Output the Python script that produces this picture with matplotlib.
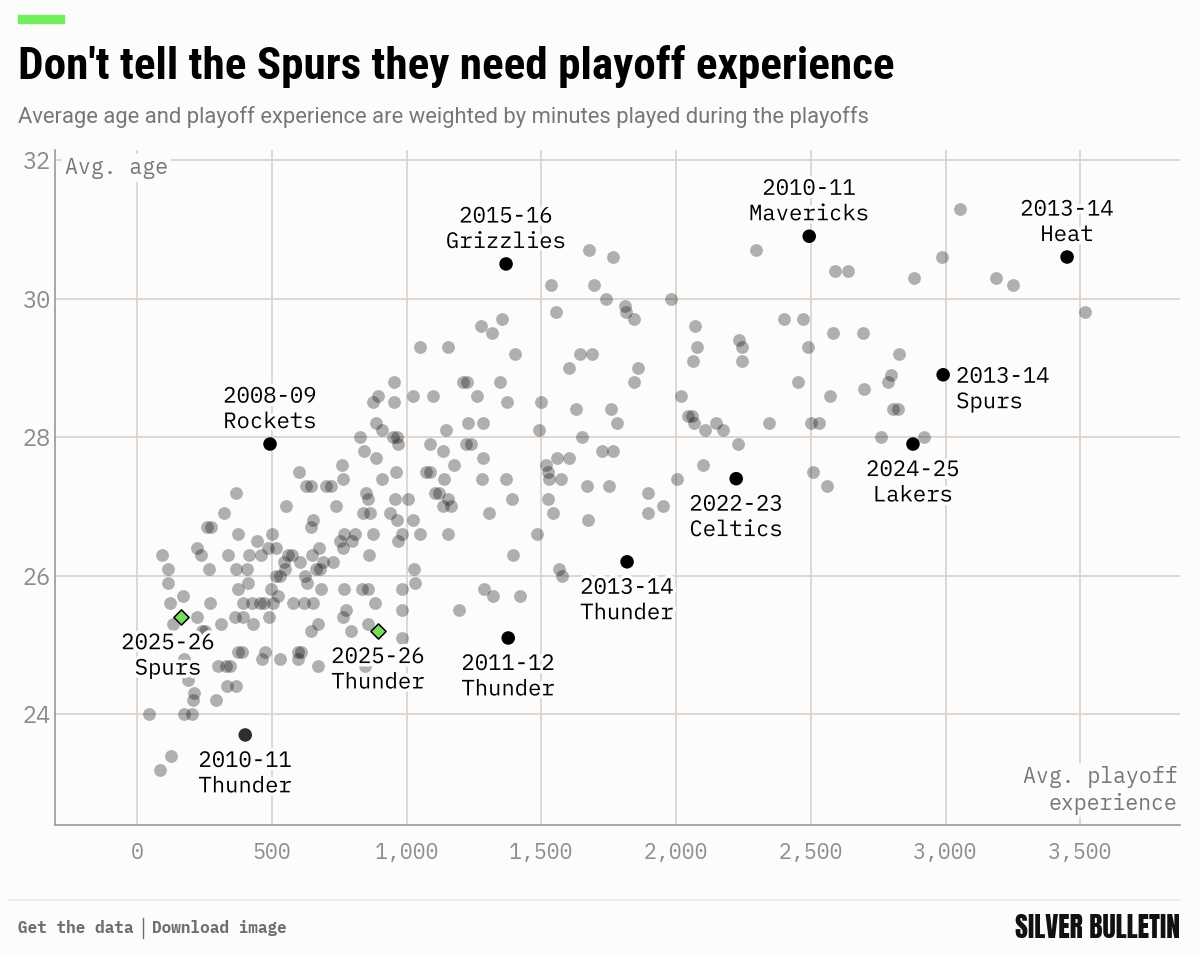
import matplotlib
matplotlib.use("Agg")
import matplotlib.pyplot as plt
import matplotlib.patheffects as pe
from matplotlib.patches import Rectangle
from matplotlib.lines import Line2D
from matplotlib.ticker import FuncFormatter

# ---- data: every other team (avg. playoff experience, avg. age) ----
other_exp = [
    3055,
    1677, 2297,
    1766, 2987,
    2590, 2639,
    2883, 3188,
    1536, 1696, 3251,
    1740, 1982,
    1811,
    1555, 1815, 3518,
    1355, 1844, 2401, 2472,
    1277, 2071,
    1317, 2583, 2694,
    2234,
    1050, 1154, 2078, 2245, 2490,
    1403, 1644, 1689, 2828,
    2063, 2245,
    1603, 1859,
    2798,
    954, 1210, 1225, 1347, 1844, 2453, 2787,
    2698,
    894, 1024, 1098, 1262, 2019, 2572,
    876, 954, 1373, 1499,
    1629, 1759, 2806, 2824,
    2045, 2060,
    887, 1228, 1284, 1781, 2067, 2149, 2345, 2501, 2531,
    909, 1147, 1492, 2108, 2175,
    828, 950, 965, 1651, 2761, 2921,
    969, 1087, 1222, 1240, 2230,
    842, 1136, 1726, 1766,
    887, 1284, 1559, 1603,
    761, 1176, 1518, 2100,
    601, 961, 1070, 1085, 1525, 2509,
    764, 909, 1139, 1280, 1369, 1530, 1573, 2004,
    625, 645, 700, 718, 1670, 1752, 2561,
    367, 850, 1105, 1120, 1896,
    857, 957, 1006, 1154, 1392, 1525,
    553, 739, 1136, 1165, 1952,
    323, 839, 865, 939, 1306, 1544, 1896,
    653, 965, 1024, 1674,
    260, 275, 646,
    375, 501, 768, 809, 876, 983, 1050, 1154, 1484,
    445, 753, 798, 969,
    223, 486, 516, 675, 764,
    93, 238, 338, 416, 460, 560, 575, 649, 861, 1395,
    546, 605, 690, 727,
    115, 267, 367, 408, 549, 665, 680, 1028, 1566,
    515, 530, 623, 1577,
    115, 412, 631, 1032,
    375, 497, 683, 768, 835, 857, 983, 1288,
    171, 523, 1321, 1421,
    122, 271, 393, 427, 455, 470, 505, 579, 620, 653, 883,
    776, 983, 1195,
    223, 364, 393, 490, 764,
    134, 312, 430, 672, 857,
    240, 250, 646, 794,
    983,
    375, 390, 475, 595, 608,
    174, 464, 531, 597,
    301, 330, 345, 672, 846,
    189,
    334, 367,
    212,
    208, 293,
    45, 174, 204,
    126,
    85,
]
other_age = (
    [31.3] * 1 + [30.7] * 2 + [30.6] * 2 + [30.4] * 2 + [30.3] * 2 + [30.2] * 3
    + [30.0] * 2 + [29.9] * 1 + [29.8] * 3 + [29.7] * 4 + [29.6] * 2 + [29.5] * 3
    + [29.4] * 1 + [29.3] * 5 + [29.2] * 4 + [29.1] * 2 + [29.0] * 2 + [28.9] * 1
    + [28.8] * 7 + [28.7] * 1 + [28.6] * 6 + [28.5] * 4 + [28.4] * 4 + [28.3] * 2
    + [28.2] * 9 + [28.1] * 5 + [28.0] * 6 + [27.9] * 5 + [27.8] * 4 + [27.7] * 4
    + [27.6] * 4 + [27.5] * 6 + [27.4] * 8 + [27.3] * 7 + [27.2] * 5 + [27.1] * 6
    + [27.0] * 5 + [26.9] * 7 + [26.8] * 4 + [26.7] * 3 + [26.6] * 9 + [26.5] * 4
    + [26.4] * 5 + [26.3] * 10 + [26.2] * 4 + [26.1] * 9 + [26.0] * 4 + [25.9] * 4
    + [25.8] * 8 + [25.7] * 4 + [25.6] * 11 + [25.5] * 3 + [25.4] * 5 + [25.3] * 5
    + [25.2] * 4 + [25.1] * 1 + [24.9] * 5 + [24.8] * 4 + [24.7] * 5 + [24.5] * 1
    + [24.4] * 2 + [24.3] * 1 + [24.2] * 2 + [24.0] * 3 + [23.4] * 1 + [23.2] * 1
)

# ---- highlighted teams ----
hl_labels = ["2008-09\nRockets", "2010-11\nThunder", "2015-16\nGrizzlies", "2011-12\nThunder",
             "2013-14\nThunder", "2022-23\nCeltics", "2010-11\nMavericks", "2024-25\nLakers",
             "2013-14\nSpurs", "2013-14\nHeat"]
hl_exp = [493, 401, 1369, 1377, 1818, 2223, 2494, 2879, 2991, 3451]
hl_age = [27.9, 23.7, 30.5, 25.1, 26.2, 27.4, 30.9, 27.9, 28.9, 30.6]
hl_pos = ["above", "below", "above", "below", "below", "below", "above", "below", "right", "above"]

cur_labels = ["2025-26\nSpurs", "2025-26\nThunder"]
cur_exp = [163, 894]
cur_age = [25.4, 25.2]

BG = "#fcfcfc"
MONO = ["IBM Plex Mono", "DejaVu Sans Mono"]
COND = ["Roboto Condensed", "Archivo Narrow", "DejaVu Sans"]

fig = plt.figure(figsize=(12, 9.56), dpi=100, facecolor=BG)
ax = fig.add_axes([55 / 1200, 1 - 825 / 956, 1125 / 1200, 675 / 956])
ax.set_facecolor(BG)

ax.scatter(other_exp, other_age, s=85, color="black", alpha=0.3, linewidths=0, zorder=3)
ax.scatter(hl_exp, hl_age, s=95, color=["#2e2e2e" if l == "2010-11\nThunder" else "black" for l in hl_labels],
           linewidths=0, zorder=4)
ax.scatter(cur_exp, cur_age, s=60, marker="D", color="#78dd5c", edgecolors="black", linewidths=1.1, zorder=5)

halo = [pe.withStroke(linewidth=5, foreground=BG)]
offsets = {"above": ((0, 11), "center", "bottom"), "below": ((0, -15), "center", "top"),
           "right": ((13, 9), "left", "top")}
for lab, x, y, p in zip(hl_labels, hl_exp, hl_age, hl_pos):
    off, ha, va = offsets[p]
    ax.annotate(lab, (x, y), xytext=off, textcoords="offset pixels", ha=ha, va=va,
                fontsize=16, family=MONO, linespacing=1.2, path_effects=halo, zorder=6)
for lab, x, y, dx in zip(cur_labels, cur_exp, cur_age, [-13, 0]):
    ax.annotate(lab, (x, y), xytext=(dx, -15), textcoords="offset pixels", ha="center", va="top",
                fontsize=16, family=MONO, linespacing=1.2, path_effects=halo, zorder=6)

ax.set_xlim(-305, 3870)
ax.set_ylim(22.4, 32.145)
ax.set_xticks(range(0, 3501, 500))
ax.set_yticks([24, 26, 28, 30, 32])
ax.xaxis.set_major_formatter(FuncFormatter(lambda v, _: f"{int(v):,}"))
ax.tick_params(length=0, labelcolor="#8c8c8c")
ax.tick_params(axis="x", pad=12, labelsize=15.5)
ax.tick_params(axis="y", pad=3, labelsize=17)
for t in ax.get_xticklabels() + ax.get_yticklabels():
    t.set_family(MONO)
ax.grid(color="#ddd5cc", lw=1.3, zorder=0)
ax.set_axisbelow(True)
for s in ["top", "right"]:
    ax.spines[s].set_visible(False)
for s in ["left", "bottom"]:
    ax.spines[s].set_color("#999999")
    ax.spines[s].set_linewidth(1.2)

ax.text(0.009, 0.99, "Avg. age", transform=ax.transAxes, ha="left", va="top", fontsize=15.5,
        family=MONO, color="#777777", zorder=7,
        bbox=dict(boxstyle="square,pad=0.15", fc=BG, ec="none"))
ax.text(0.998, 0.088, "Avg. playoff\nexperience", transform=ax.transAxes, ha="right", va="top",
        fontsize=15.5, family=MONO, color="#777777", linespacing=1.3, zorder=7,
        bbox=dict(boxstyle="square,pad=0.1", fc=BG, ec="none"))

# header
fig.patches.append(Rectangle((18 / 1200, 1 - 23 / 956), 46 / 1200, 8 / 956, transform=fig.transFigure,
                             color="#72ee5c"))
fig.text(18 / 1200, 1 - 79 / 956, "Don't tell the Spurs they need playoff experience", fontsize=32.5,
         fontweight="bold", family=COND, va="baseline", color="black")
fig.text(18 / 1200, 1 - 123 / 956, "Average age and playoff experience are weighted by minutes played during the playoffs",
         fontsize=15.8, family=["Roboto", "DejaVu Sans"], va="baseline", color="#777777")

# footer
fig.lines.append(Line2D([8 / 1200, 1180 / 1200], [1 - 900 / 956] * 2, transform=fig.transFigure,
                        color="#ececec", lw=1.2))
fig.text(18 / 1200, 1 - 928 / 956, "Get the data", fontsize=11.5, family=MONO, fontweight="bold",
         color="#6f6f6f", va="center")
fig.lines.append(Line2D([143 / 1200] * 2, [1 - 918 / 956, 1 - 938 / 956], transform=fig.transFigure,
                        color="#6f6f6f", lw=1))
fig.text(152 / 1200, 1 - 928 / 956, "Download image", fontsize=11.5, family=MONO, fontweight="bold",
         color="#6f6f6f", va="center")
fig.text(1180 / 1200, 1 - 928 / 956, "SILVER BULLETIN", fontsize=20, family=["Anton", "DejaVu Sans"],
         color="#111111", va="center", ha="right")

fig.savefig("out.png", dpi=100, facecolor=BG)
